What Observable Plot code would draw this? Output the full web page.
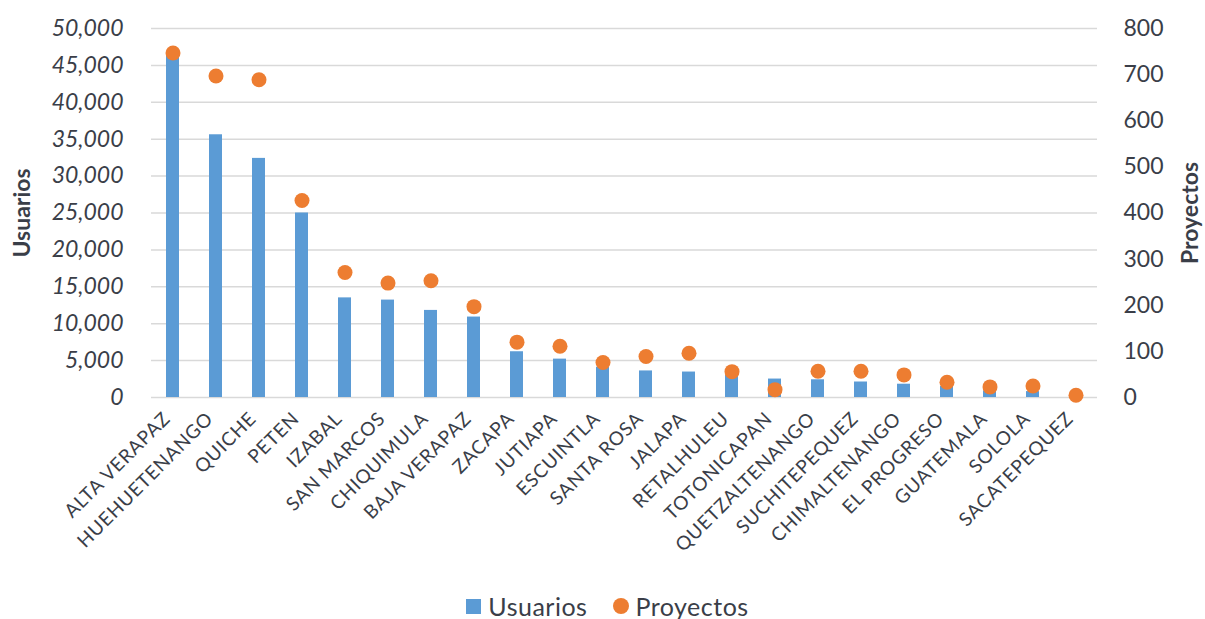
<!DOCTYPE html>
<html>
<head>
<meta charset="utf-8">
<script src="https://cdn.jsdelivr.net/npm/d3@7"></script>
<script src="https://cdn.jsdelivr.net/npm/@observablehq/plot@0.6"></script>
<style>
  body { margin: 0; background: #fff; font-family: Lato, sans-serif; color: #3a3e48; }
  #legend { display: flex; justify-content: center; align-items: center; height: 30px; margin-top: 16px; padding-left: 10px; font-size: 25px; letter-spacing: 0.5px; }
  .item { display: flex; align-items: center; margin: 0 13px; }
  .sq { width: 15px; height: 15px; background: #5B9BD5; margin-right: 7px; }
  .ci { width: 16px; height: 16px; border-radius: 50%; background: #ED7D31; margin-right: 6px; }
  svg g[aria-label="x-axis tick label"] text { letter-spacing: 0.8px; }
</style>
</head>
<body>
<div id="chart"></div>
<div id="legend">
  <div class="item"><div class="sq"></div><span>Usuarios</span></div>
  <div class="item"><div class="ci"></div><span>Proyectos</span></div>
</div>
<script>
const departamentos = ["ALTA VERAPAZ","HUEHUETENANGO","QUICHE","PETEN","IZABAL","SAN MARCOS","CHIQUIMULA","BAJA VERAPAZ","ZACAPA","JUTIAPA","ESCUINTLA","SANTA ROSA","JALAPA","RETALHULEU","TOTONICAPAN","QUETZALTENANGO","SUCHITEPEQUEZ","CHIMALTENANGO","EL PROGRESO","GUATEMALA","SOLOLA","SACATEPEQUEZ"];
const usuarios = [46700, 35600, 32400, 25000, 13500, 13200, 11800, 10900, 6200, 5200, 4100, 3600, 3450, 3000, 2500, 2400, 2100, 1800, 1500, 900, 800, 200];
const proyectos = [747, 697, 689, 427, 271, 248, 253, 197, 120, 111, 76, 89, 96, 56, 17, 57, 57, 49, 33, 23, 25, 5];
const usuariosTicks = [0, 5000, 10000, 15000, 20000, 25000, 30000, 35000, 40000, 45000, 50000];
const proyectosTicks = [0, 100, 200, 300, 400, 500, 600, 700, 800];

const k = 50000 / 800;
const data = departamentos.map((d, i) => ({dep: d, usuarios: usuarios[i], proyectos: proyectos[i]}));

const chart = Plot.plot({
  width: 1205,
  height: 575,
  marginTop: 28,
  marginBottom: 178,
  marginLeft: 151,
  marginRight: 108,
  style: {fontFamily: "Lato, sans-serif", color: "#3a3e48", background: "white"},
  x: {domain: departamentos, paddingInner: 0.7, paddingOuter: 0.35, label: null},
  y: {domain: [0, 50000], label: null},
  marks: [
    Plot.gridY(usuariosTicks, {stroke: "#d9d9d9", strokeOpacity: 1, strokeWidth: 1.5}),
    Plot.barY(data, {x: "dep", y: "usuarios", fill: "#5B9BD5"}),
    Plot.dot(data, {x: "dep", y: d => d.proyectos * k, r: 7.5, fill: "#ED7D31"}),
    Plot.axisY(usuariosTicks, {anchor: "left", tickSize: 0, tickPadding: 28, tickFormat: d3.format(","), fontSize: 23, fontStyle: "italic", label: null}),
    Plot.axisY(proyectosTicks.map(v => v * k), {anchor: "right", tickSize: 0, tickPadding: 26, tickFormat: d => Math.round(d / k), fontSize: 23, label: null}),
    Plot.axisX({tickRotate: -45, tickSize: 0, tickPadding: 18, dx: -6, fontSize: 19, label: null}),
    Plot.text(["Usuarios"], {text: d => d, frameAnchor: "left", textAnchor: "middle", dx: -129, rotate: -90, fontWeight: "bold", fontSize: 23}),
    Plot.text(["Proyectos"], {text: d => d, frameAnchor: "right", textAnchor: "middle", dx: 93, rotate: -90, fontWeight: "bold", fontSize: 23})
  ]
});
document.getElementById("chart").appendChild(chart);
</script>
</body>
</html>
